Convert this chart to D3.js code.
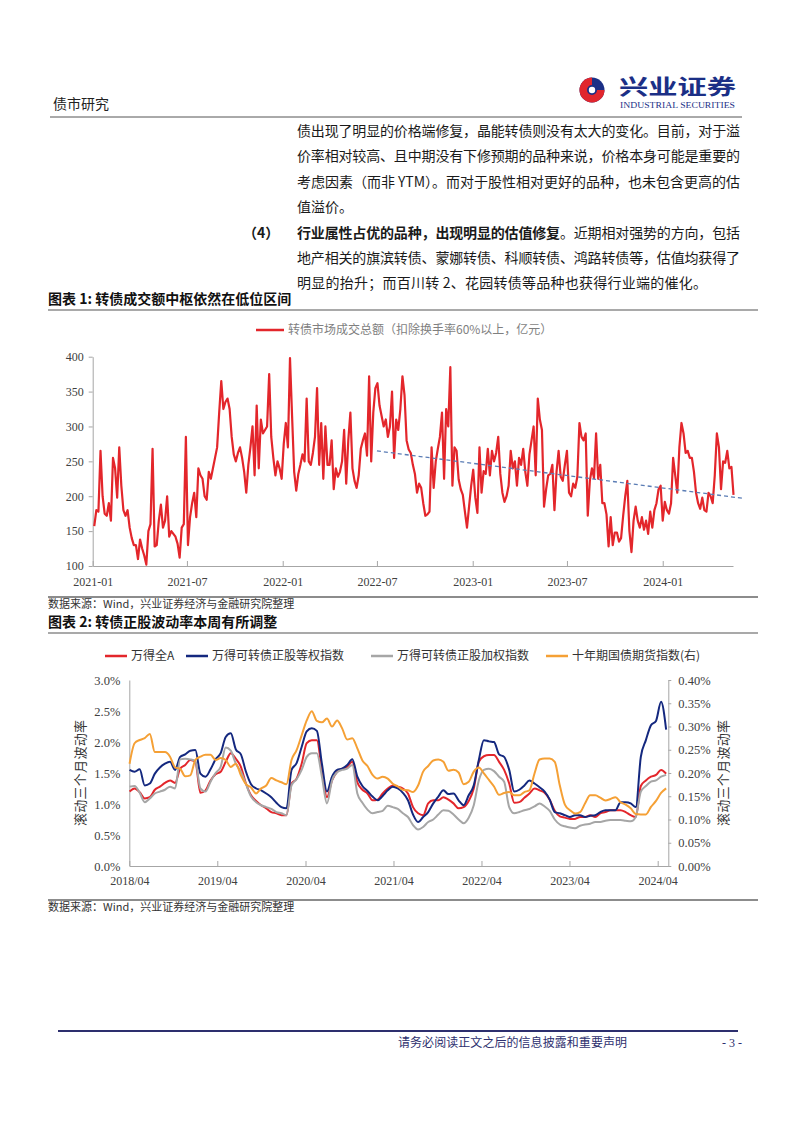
<!DOCTYPE html>
<html>
<head>
<meta charset="utf-8">
<title>转债成交额与正股波动率</title>
<script src="https://cdn.jsdelivr.net/npm/d3@7"></script>
<style>
  body { margin: 0; background: #fff; }
  svg { display: block; }
</style>
</head>
<body>
<svg id="page" width="802" height="1133"></svg>
<script>
// ---------- chart 1 data: 转债市场成交总额 (亿元), one value every 4 days from 2021-01-04 ----------
var volStart = new Date(2021, 0, 4), volStep = 4;
var volume = [
  157,180,178,265,200,175,172,190,165,255,
  240,198,270,215,180,172,180,155,140,130,
  130,110,138,125,115,102,150,160,268,128,
  130,165,188,155,165,200,142,150,146,142,
  132,112,155,160,285,130,170,190,205,170,
  240,230,225,200,195,235,225,240,255,270,
  320,365,325,335,340,325,285,260,250,262,
  270,255,235,205,245,270,300,230,330,240,
  310,290,295,300,375,285,255,230,250,240,
  225,275,305,270,398,315,235,208,232,245,
  260,250,340,250,245,262,285,355,245,305,
  225,300,245,245,280,210,240,228,235,250,
  295,218,280,320,240,222,212,230,268,280,
  290,258,372,250,320,355,362,330,315,300,
  310,285,300,350,255,310,295,325,372,345,
  280,267,262,245,232,205,218,212,190,172,
  174,178,270,212,250,268,285,320,225,325,
  300,385,215,270,265,224,210,202,178,155,
  185,215,238,198,176,270,205,236,232,268,
  230,265,250,262,285,232,205,192,200,215,
  265,240,250,215,255,245,268,235,215,260,
  280,300,230,340,310,295,185,210,230,232,
  245,180,235,265,228,222,245,265,205,200,
  218,212,228,305,285,280,290,172,222,240,
  226,290,225,245,190,190,174,128,170,130,
  148,148,135,140,172,200,222,150,120,165,
  185,165,155,170,152,165,146,178,155,180,
  190,210,215,165,192,180,175,190,255,230,
  205,270,305,290,262,265,255,255,235,205,
  190,182,198,180,178,205,200,190,230,290,
  270,210,250,248,265,240,242,202
];
var trendDates = ["2022-07-01", "2024-06-03"];
var trendValues = [265, 197];
var volTickLabels = ["2021-01", "2021-07", "2022-01", "2022-07", "2023-01", "2023-07", "2024-01"];
var volYTicks = [100, 150, 200, 250, 300, 350, 400];

// ---------- chart 2 data: 滚动三个月波动率 (%), one value every 21 days from 2018-04-02 ----------
var volaStart = new Date(2018, 3, 2), volaStep = 21;
var wdAll = [
  1.20,1.25,1.19,1.09,1.11,1.23,1.28,1.34,1.38,1.34,
  1.57,1.63,1.71,1.68,1.18,1.22,1.38,1.48,1.52,1.68,
  1.82,1.73,1.60,1.33,1.14,1.05,0.98,0.93,0.87,0.85,
  0.82,0.82,1.33,1.41,1.65,1.98,2.03,2.03,1.55,1.11,
  1.38,1.52,1.57,1.60,1.68,1.35,1.23,1.17,1.06,1.07,
  1.17,1.25,1.30,1.28,1.25,1.17,0.95,0.85,0.82,1.01,
  1.06,1.06,1.11,1.07,1.01,0.93,0.95,1.05,1.25,1.68,
  1.77,1.79,1.79,1.68,1.55,1.33,1.02,1.03,1.10,1.17,
  1.25,1.22,1.18,1.07,0.89,0.80,0.78,0.76,0.76,0.79,
  0.79,0.82,0.79,0.85,0.87,0.90,0.90,0.90,0.87,0.82,
  0.79,1.29,1.38,1.44,1.47,1.55,1.49
];
var cbEqual = [
  1.55,1.52,1.56,1.30,1.33,1.49,1.59,1.65,1.68,1.55,
  1.76,1.80,1.86,1.87,1.49,1.44,1.56,1.72,1.82,2.08,
  2.14,1.88,1.80,1.52,1.32,1.25,1.22,1.17,1.11,1.02,
  0.95,0.93,1.55,1.66,1.92,2.17,2.22,2.18,1.65,1.20,
  1.44,1.55,1.57,1.63,1.72,1.44,1.29,1.21,1.12,1.06,
  1.13,1.22,1.28,1.25,1.18,1.06,0.83,0.71,0.79,0.87,
  1.01,1.12,1.22,1.16,1.17,1.06,0.98,1.14,1.30,1.71,
  2.03,2.01,2.00,1.80,1.76,1.55,1.20,1.23,1.30,1.38,
  1.33,1.27,1.20,1.07,0.87,0.85,0.82,0.79,0.82,0.82,
  0.79,0.81,0.82,0.87,0.90,0.90,0.90,1.03,1.03,1.01,
  0.95,1.76,2.03,2.27,2.34,2.65,2.20
];
var cbWeighted = [
  1.28,1.29,1.18,1.03,1.09,1.17,1.20,1.23,1.28,1.25,
  1.72,1.73,1.72,1.69,1.25,1.20,1.36,1.50,1.60,1.91,
  1.86,1.65,1.52,1.32,1.12,1.03,0.98,0.95,0.92,0.87,
  0.85,0.82,1.30,1.40,1.55,1.76,1.82,1.82,1.44,1.01,
  1.38,1.51,1.55,1.57,1.63,1.17,1.02,0.91,0.85,0.87,
  0.89,0.97,0.95,0.92,0.85,0.79,0.66,0.59,0.63,0.71,
  0.75,0.83,0.90,0.89,0.83,0.75,0.69,0.78,0.98,1.38,
  1.55,1.57,1.53,1.44,1.36,0.95,0.85,0.87,0.90,0.92,
  0.96,1.01,0.96,0.89,0.75,0.67,0.64,0.62,0.61,0.65,
  0.67,0.68,0.71,0.71,0.73,0.74,0.74,0.74,0.73,0.72,
  0.79,1.20,1.29,1.36,1.38,1.44,1.47
];
// right axis
var bondFut = [
  0.220,0.264,0.271,0.275,0.284,0.245,0.245,0.245,0.235,0.212,
  0.209,0.193,0.195,0.228,0.235,0.239,0.239,0.228,0.232,0.228,
  0.213,0.220,0.195,0.176,0.169,0.156,0.167,0.173,0.189,0.184,
  0.180,0.176,0.228,0.249,0.281,0.313,0.333,0.312,0.309,0.317,
  0.300,0.313,0.296,0.272,0.275,0.253,0.227,0.215,0.196,0.188,
  0.192,0.188,0.177,0.171,0.164,0.163,0.159,0.173,0.203,0.215,
  0.227,0.229,0.224,0.205,0.207,0.201,0.176,0.181,0.203,0.212,
  0.199,0.185,0.171,0.153,0.157,0.159,0.152,0.152,0.159,0.163,
  0.199,0.229,0.231,0.231,0.224,0.173,0.132,0.120,0.113,0.116,
  0.135,0.152,0.152,0.147,0.141,0.144,0.148,0.137,0.132,0.124,
  0.112,0.111,0.111,0.127,0.140,0.157,0.167
];
var volaTickLabels = ["2018/04", "2019/04", "2020/04", "2021/04", "2022/04", "2023/04", "2024/04"];
var leftTicks = [0, 0.5, 1.0, 1.5, 2.0, 2.5, 3.0];
var rightTicks = [0, 0.05, 0.10, 0.15, 0.20, 0.25, 0.30, 0.35, 0.40];
var seriesNames = ["万得全A", "万得可转债正股等权指数", "万得可转债正股加权指数", "十年期国债期货指数(右)"];
var seriesColors = ["#e3262b", "#14287f", "#a6a6a6", "#f5a035"];

var CN = '"Noto Sans CJK SC", "Noto Sans", sans-serif';
var SERIF = '"Liberation Serif", "DejaVu Serif", serif';

var svg = d3.select("#page");
svg.append("rect").attr("width", 802).attr("height", 1133).attr("fill", "#fff");

// ---------- page header ----------
svg.append("text").attr("x", 53).attr("y", 109).text("债市研究")
  .style("font-family", CN).style("font-size", "14px").attr("fill", "#222");

var logo = svg.append("g");
logo.append("circle").attr("cx", 592).attr("cy", 90).attr("r", 12.5).attr("fill", "#1b2f86");
logo.append("path").attr("d", "M592,77.5 A12.5,12.5 0 1 0 604.5,90 L597,90 A5,5 0 1 1 592,85 Z").attr("fill", "#e1262d");
logo.append("circle").attr("cx", 592).attr("cy", 90).attr("r", 3.2).attr("fill", "#fff");
logo.append("text").attr("x", 619).attr("y", 94).text("兴业证券")
  .attr("textLength", 117).attr("lengthAdjust", "spacingAndGlyphs")
  .style("font-family", CN).style("font-weight", "700").style("font-size", "21px").attr("fill", "#1b2f86");
logo.append("text").attr("x", 620).attr("y", 108).text("INDUSTRIAL SECURITIES")
  .attr("textLength", 115).attr("lengthAdjust", "spacingAndGlyphs")
  .style("font-family", SERIF).style("font-size", "7.5px").attr("fill", "#1b2f86");

svg.append("line").attr("x1", 50).attr("x2", 742).attr("y1", 117).attr("y2", 117)
  .attr("stroke", "#555").attr("stroke-width", 1);

// ---------- paragraph ----------
var para = [
  { y: 136, parts: [["债出现了明显的价格端修复，晶能转债则没有太大的变化。目前，对于溢", 400]], w: 443 },
  { y: 161, parts: [["价率相对较高、且中期没有下修预期的品种来说，价格本身可能是重要的", 400]], w: 443 },
  { y: 187, parts: [["考虑因素（而非 YTM）。而对于股性相对更好的品种，也未包含更高的估", 400]], w: 443 },
  { y: 212, parts: [["值溢价。", 400]], w: 0 },
  { y: 238, parts: [["行业属性占优的品种，出现明显的估值修复", 700], ["。近期相对强势的方向，包括", 400]], w: 443 },
  { y: 263, parts: [["地产相关的旗滨转债、蒙娜转债、科顺转债、鸿路转债等，估值均获得了", 400]], w: 443 },
  { y: 288, parts: [["明显的抬升；而百川转 2、花园转债等品种也获得行业端的催化。", 400]], w: 410 }
];
para.forEach(function (ln) {
  var t = svg.append("text").attr("x", 297).attr("y", ln.y)
    .style("font-family", CN).style("font-size", "14px").attr("fill", "#1a1a1a");
  if (ln.w) t.attr("textLength", ln.w).attr("lengthAdjust", "spacing");
  ln.parts.forEach(function (p) { t.append("tspan").style("font-weight", p[1]).text(p[0]); });
});
svg.append("text").attr("x", 243).attr("y", 238).text("（4）")
  .style("font-family", CN).style("font-size", "14px").style("font-weight", "700").attr("fill", "#1a1a1a");

// ---------- helpers ----------
function title(y, label) {
  svg.append("text").attr("x", 48).attr("y", y).text(label)
    .style("font-family", CN).style("font-weight", "700").style("font-size", "14px").attr("fill", "#111");
  svg.append("line").attr("x1", 48).attr("x2", 758).attr("y1", y + 6).attr("y2", y + 6)
    .attr("stroke", "#8c8c8c").attr("stroke-width", 1.6);
}
function source(y) {
  svg.append("line").attr("x1", 48).attr("x2", 758).attr("y1", y).attr("y2", y)
    .attr("stroke", "#666").attr("stroke-width", 1.4);
  svg.append("text").attr("x", 48).attr("y", y + 11).text("数据来源：Wind，兴业证券经济与金融研究院整理")
    .style("font-family", CN).style("font-size", "11px").attr("fill", "#333");
}
function styleAxis(g) {
  g.select(".domain").attr("stroke", "#a6a6a6");
  g.selectAll(".tick line").attr("stroke", "#a6a6a6");
  g.selectAll(".tick text").style("font-family", SERIF).attr("fill", "#404040");
}

// ---------- chart 1 ----------
title(304, "图表 1:  转债成交额中枢依然在低位区间");

svg.append("line").attr("x1", 256).attr("x2", 284).attr("y1", 330).attr("y2", 330)
  .attr("stroke", "#e3262b").attr("stroke-width", 2.5);
svg.append("text").attr("x", 288).attr("y", 334).text("转债市场成交总额（扣除换手率60%以上，亿元）")
  .style("font-family", CN).style("font-size", "12px").attr("fill", "#7f7f7f");

var parseM = d3.timeParse("%Y-%m");
var parseD = d3.timeParse("%Y-%m-%d");
var x1 = d3.scaleTime().domain([new Date(2021, 0, 1), new Date(2024, 4, 15)]).range([92.7, 733]);
var y1 = d3.scaleLinear().domain([100, 400]).range([566, 356.7]);

var volData = volume.map(function (v, i) { return { date: d3.timeDay.offset(volStart, i * volStep), v: v }; });

var gx1 = svg.append("g").attr("transform", "translate(0,566)")
  .call(d3.axisBottom(x1).tickValues(volTickLabels.map(parseM)).tickFormat(d3.timeFormat("%Y-%m"))
    .tickSizeInner(-5).tickSizeOuter(0).tickPadding(11));
styleAxis(gx1);
gx1.selectAll(".tick text").style("font-size", "12px");

var gy1 = svg.append("g").attr("transform", "translate(92.7,0)")
  .call(d3.axisLeft(y1).tickValues(volYTicks).tickSizeInner(4).tickSizeOuter(0).tickPadding(5));
styleAxis(gy1);
gy1.selectAll(".tick text").style("font-size", "12px");

svg.append("path").datum(volData)
  .attr("d", d3.line().x(function (d) { return x1(d.date); }).y(function (d) { return y1(d.v); }))
  .attr("fill", "none").attr("stroke", "#e3262b").attr("stroke-width", 2.2).attr("stroke-linejoin", "round");

svg.append("path").datum(trendDates.map(function (d, i) { return { date: parseD(d), v: trendValues[i] }; }))
  .attr("d", d3.line().x(function (d) { return x1(d.date); }).y(function (d) { return y1(d.v); }))
  .attr("fill", "none").attr("stroke", "#5b7db5").attr("stroke-width", 1.3).attr("stroke-dasharray", "4,3");

source(597);

// ---------- chart 2 ----------
title(627, "图表 2:  转债正股波动率本周有所调整");

var legX = [105, 186, 371, 546];
seriesNames.forEach(function (n, i) {
  svg.append("line").attr("x1", legX[i]).attr("x2", legX[i] + 22).attr("y1", 656).attr("y2", 656)
    .attr("stroke", seriesColors[i]).attr("stroke-width", 2.5);
  svg.append("text").attr("x", legX[i] + 26).attr("y", 660).text(n)
    .style("font-family", CN).style("font-size", "12px").attr("fill", "#333");
});

var x2 = d3.scaleTime().domain([new Date(2018, 3, 1), new Date(2024, 4, 15)]).range([129.3, 668.3]);
var yL = d3.scaleLinear().domain([0, 3.0]).range([866, 680]);
var yR = d3.scaleLinear().domain([0, 0.40]).range([866, 680]);

var gx2 = svg.append("g").attr("transform", "translate(0,866)")
  .call(d3.axisBottom(x2).tickValues(volaTickLabels.map(d3.timeParse("%Y/%m"))).tickFormat(d3.timeFormat("%Y/%m"))
    .tickSizeInner(-5).tickSizeOuter(0).tickPadding(10));
styleAxis(gx2);
gx2.selectAll(".tick text").style("font-size", "12px");

var gyL = svg.append("g").attr("transform", "translate(129.3,0)")
  .call(d3.axisLeft(yL).tickValues(leftTicks).tickFormat(function (d) { return d.toFixed(1) + "%"; })
    .tickSizeInner(0).tickSizeOuter(0).tickPadding(9));
styleAxis(gyL);
gyL.selectAll(".tick text").style("font-size", "12.5px");

var gyR = svg.append("g").attr("transform", "translate(668.3,0)")
  .call(d3.axisRight(yR).tickValues(rightTicks).tickFormat(function (d) { return d.toFixed(2) + "%"; })
    .tickSizeInner(3).tickSizeOuter(0).tickPadding(7));
styleAxis(gyR);
gyR.selectAll(".tick text").style("font-size", "12.5px");

svg.append("text").attr("transform", "translate(85,773) rotate(-90)").attr("text-anchor", "middle")
  .text("滚动三个月波动率").attr("textLength", 106).attr("lengthAdjust", "spacing")
  .style("font-family", CN).style("font-size", "13px").attr("fill", "#333");
svg.append("text").attr("transform", "translate(728,773) rotate(-90)").attr("text-anchor", "middle")
  .text("滚动三个月波动率").attr("textLength", 106).attr("lengthAdjust", "spacing")
  .style("font-family", CN).style("font-size", "13px").attr("fill", "#333");

function volaDate(i) { return d3.timeDay.offset(volaStart, i * volaStep); }
var leftSeries = [wdAll, cbEqual, cbWeighted];
var drawOrder = [0, 1, 2];
drawOrder.forEach(function (k) {
  svg.append("path").datum(leftSeries[k])
    .attr("d", d3.line().curve(d3.curveMonotoneX).x(function (d, i) { return x2(volaDate(i)); }).y(function (d) { return yL(d); }))
    .attr("fill", "none").attr("stroke", seriesColors[k]).attr("stroke-width", 2).attr("stroke-linejoin", "round");
});
svg.append("path").datum(bondFut)
  .attr("d", d3.line().curve(d3.curveMonotoneX).x(function (d, i) { return x2(volaDate(i)); }).y(function (d) { return yR(d); }))
  .attr("fill", "none").attr("stroke", seriesColors[3]).attr("stroke-width", 2).attr("stroke-linejoin", "round");

source(900);

// ---------- footer ----------
svg.append("line").attr("x1", 58).attr("x2", 738).attr("y1", 1031).attr("y2", 1031)
  .attr("stroke", "#2d2f6e").attr("stroke-width", 2);
svg.append("text").attr("x", 398).attr("y", 1047).text("请务必阅读正文之后的信息披露和重要声明")
  .attr("textLength", 229).attr("lengthAdjust", "spacing")
  .style("font-family", CN).style("font-size", "12px").attr("fill", "#2d2f6e");
svg.append("text").attr("x", 722).attr("y", 1047).text("- 3 -")
  .style("font-family", SERIF).style("font-size", "12px").attr("fill", "#2d2f6e");
</script>
</body>
</html>
